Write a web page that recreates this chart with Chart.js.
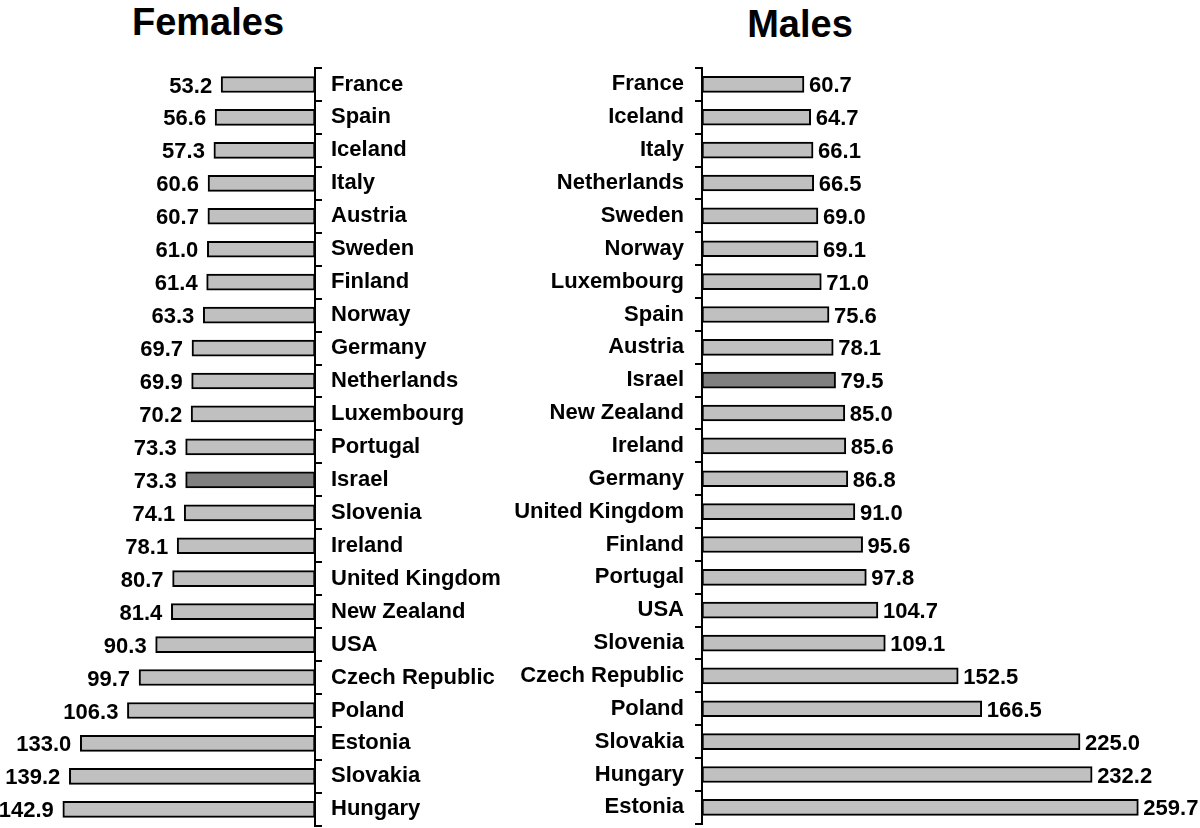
<!DOCTYPE html>
<html>
<head>
<meta charset="utf-8">
<script src="https://cdn.jsdelivr.net/npm/chart.js@4"></script>
<style>
  body { margin: 0; background: #fff; width: 1200px; height: 828px; position: relative; overflow: hidden; font-family: "Liberation Sans", Arial, sans-serif; }
  .title { position: absolute; top: 0; font-weight: bold; font-size: 38px; line-height: 44px; transform: translateX(-50%); color: #000; }
  #leftWrap { position: absolute; left: 0; top: 0; width: 510px; height: 848px; }
  #rightWrap { position: absolute; left: 510px; top: 0; width: 690px; height: 848px; }
</style>
</head>
<body>
<div class="title" style="left:208px">Females</div>
<div class="title" style="left:800px; top:2px">Males</div>
<div id="leftWrap"><canvas id="femalesChart"></canvas></div>
<div id="rightWrap"><canvas id="malesChart"></canvas></div>
<script>
const femaleCountries = ['France', 'Spain', 'Iceland', 'Italy', 'Austria', 'Sweden', 'Finland', 'Norway', 'Germany', 'Netherlands', 'Luxembourg', 'Portugal', 'Israel', 'Slovenia', 'Ireland', 'United Kingdom', 'New Zealand', 'USA', 'Czech Republic', 'Poland', 'Estonia', 'Slovakia', 'Hungary'];
const femaleValues = [53.2, 56.6, 57.3, 60.6, 60.7, 61.0, 61.4, 63.3, 69.7, 69.9, 70.2, 73.3, 73.3, 74.1, 78.1, 80.7, 81.4, 90.3, 99.7, 106.3, 133.0, 139.2, 142.9];

const maleCountries = ['France', 'Iceland', 'Italy', 'Netherlands', 'Sweden', 'Norway', 'Luxembourg', 'Spain', 'Austria', 'Israel', 'New Zealand', 'Ireland', 'Germany', 'United Kingdom', 'Finland', 'Portugal', 'USA', 'Slovenia', 'Czech Republic', 'Poland', 'Slovakia', 'Hungary', 'Estonia'];
const maleValues = [60.7, 64.7, 66.1, 66.5, 69.0, 69.1, 71.0, 75.6, 78.1, 79.5, 85.0, 85.6, 86.8, 91.0, 95.6, 97.8, 104.7, 109.1, 152.5, 166.5, 225.0, 232.2, 259.7];

const highlight = 'Israel';
const FONT = '"Liberation Sans", Arial, Helvetica, sans-serif';

// bar end value labels
const valueLabels = {
  id: 'valueLabels',
  afterDatasetsDraw(chart, args, opts) {
    const ctx = chart.ctx;
    const meta = chart.getDatasetMeta(0);
    ctx.save();
    ctx.font = 'bold 22px ' + FONT;
    ctx.fillStyle = '#000';
    ctx.textBaseline = 'middle';
    meta.data.forEach((bar, i) => {
      const v = chart.data.datasets[0].data[i];
      if (opts.side === 'left') {
        ctx.textAlign = 'right';
        ctx.fillText(v.toFixed(1), bar.x - 9, bar.y + 2);
      } else {
        ctx.textAlign = 'left';
        ctx.fillText(v.toFixed(1), bar.x + 5, bar.y + 2);
      }
    });
    ctx.restore();
  }
};

function makeChart(id, labels, values, side, max, axisWidth, labelPad) {
  const ctx = document.getElementById(id).getContext('2d');
  return new Chart(ctx, {
    type: 'bar',
    data: {
      labels: labels,
      datasets: [{
        data: values,
        backgroundColor: labels.map(c => c === highlight ? '#808080' : '#c0c0c0'),
        borderColor: '#000',
        borderWidth: 2,
        borderSkipped: false,
        barThickness: 16
      }]
    },
    plugins: [valueLabels],
    options: {
      indexAxis: 'y',
      responsive: true,
      maintainAspectRatio: false,
      animation: false,
      layout: { padding: { top: 68, bottom: 2, left: 0, right: 0 } },
      plugins: {
        legend: { display: false },
        tooltip: { enabled: false },
        valueLabels: { side: side }
      },
      scales: {
        x: {
          display: false,
          reverse: side === 'left',
          min: 0,
          max: max
        },
        y: {
          position: side === 'left' ? 'right' : 'left',
          afterFit(scale) { scale.width = axisWidth; },
          border: { display: true, color: '#000', width: 2 },
          grid: {
            offset: true,
            drawOnChartArea: false,
            drawTicks: true,
            tickLength: 7,
            color: '#000',
            lineWidth: 2
          },
          ticks: {
            color: '#000',
            padding: labelPad,
            font: { family: FONT, size: 22, weight: 'bold' }
          }
        }
      }
    }
  });
}

makeChart('femalesChart', femaleCountries, femaleValues, 'left', 178.5, 195, 9);
makeChart('malesChart', maleCountries, maleValues, 'right', 296.4, 192, 11);
</script>
</body>
</html>
